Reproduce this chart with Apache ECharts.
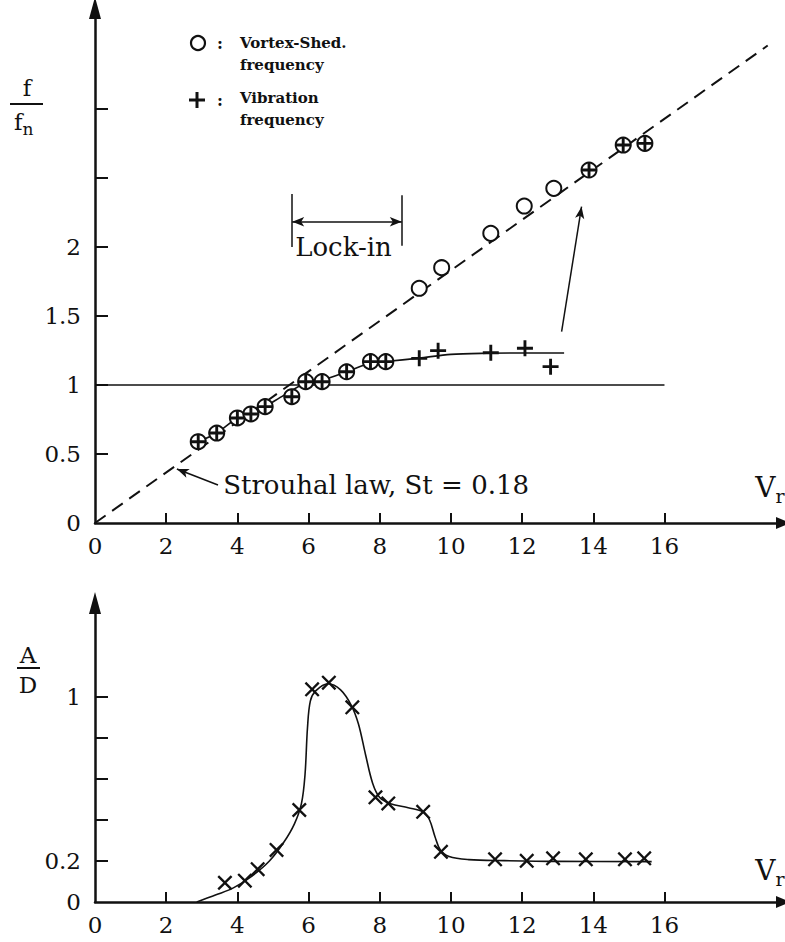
<!DOCTYPE html>
<html><head><meta charset="utf-8">
<script src="https://cdn.jsdelivr.net/npm/echarts@6/dist/echarts.min.js"></script>
<style>html,body{margin:0;padding:0;background:#fff}#c{width:785px;height:942px}</style>
</head><body><div id="c"></div>
<script>
// ---------- axis ticks / labels ----------
const xTickValues = [2, 4, 6, 8, 10, 12, 14, 16];
const xLabelValues = [0, 2, 4, 6, 8, 10, 12, 14, 16];
const freqTickValues = [0.5, 1, 1.5, 2, 2.5, 3];
const freqLabelValues = [0, 0.5, 1, 1.5, 2];
const ampTickValues = [0.2, 0.4, 0.6, 0.8, 1.0];
const ampLabelValues = [0, 0.2, 1];

// ---------- top: frequency ratio ----------
// vortex-shedding frequency (circles)
const vrShed = [2.90, 3.42, 4.00, 4.38, 4.78, 5.53, 5.92, 6.38, 7.07, 7.74, 8.17, 9.11, 9.74, 11.12, 12.06, 12.89, 13.88, 14.84, 15.45];
const fShed  = [0.589, 0.652, 0.761, 0.790, 0.843, 0.915, 1.024, 1.024, 1.096, 1.169, 1.169, 1.701, 1.850, 2.099, 2.297, 2.425, 2.558, 2.739, 2.751];
// vibration frequency (plus signs)
const vrVib = [2.90, 3.42, 4.00, 4.38, 4.78, 5.53, 5.92, 6.38, 7.07, 7.74, 8.17, 9.11, 9.64, 11.12, 12.08, 12.80, 13.88, 14.84, 15.45];
const fVib  = [0.589, 0.652, 0.761, 0.790, 0.843, 0.915, 1.024, 1.024, 1.096, 1.169, 1.169, 1.193, 1.249, 1.234, 1.266, 1.133, 2.558, 2.739, 2.751];
// hand-drawn fit through vibration frequency
const vrFit = [2.90, 3.42, 4.00, 4.38, 4.78, 5.30, 5.92, 6.38, 7.07, 7.74, 8.17, 9.11, 10.0, 11.0, 12.0, 13.18];
const fFit  = [0.589, 0.652, 0.761, 0.790, 0.843, 0.925, 1.015, 1.035, 1.096, 1.160, 1.170, 1.195, 1.222, 1.230, 1.232, 1.232];
// Strouhal law line (St = 0.18) and natural frequency line
const vrStrouhal = [0, 18.9];
const fStrouhal  = [0, 3.46];
const vrNatural = [0, 16.0];
const fNatural  = [1, 1];

// ---------- bottom: amplitude ----------
const vrAmp = [3.65, 4.21, 4.57, 5.10, 5.74, 6.10, 6.57, 7.23, 7.88, 8.24, 9.22, 9.72, 11.24, 12.13, 12.87, 13.79, 14.89, 15.43];
const aAmp  = [0.094, 0.104, 0.160, 0.254, 0.449, 1.038, 1.070, 0.950, 0.511, 0.481, 0.440, 0.245, 0.208, 0.201, 0.213, 0.208, 0.208, 0.213];
const vrAmpFit = [2.86, 3.40, 3.90, 4.40, 4.90, 5.30, 5.60, 5.80, 5.90, 5.97, 6.05, 6.20, 6.55, 6.90, 7.20, 7.40, 7.60, 7.80, 8.00, 8.30, 8.80, 9.22, 9.40, 9.55, 9.70, 9.95, 10.50, 11.50, 13.00, 15.64];
const aAmpFit  = [0, 0.035, 0.07, 0.125, 0.20, 0.29, 0.38, 0.48, 0.62, 0.85, 0.98, 1.03, 1.065, 1.035, 0.96, 0.87, 0.72, 0.58, 0.51, 0.48, 0.46, 0.44, 0.40, 0.32, 0.255, 0.222, 0.207, 0.202, 0.198, 0.197];

// ---------- annotations (data coordinates) ----------
const lockInStart = 5.54, lockInEnd = 8.62, lockInBarLow = 2.0, lockInBarHigh = 2.385, lockInArrowY = 2.183;
const strouhalArrowFrom = [3.455, 0.275], strouhalArrowTo = [2.30, 0.391];
const liftArrowFrom = [13.11, 1.386], liftArrowTo = [13.67, 2.292];

const zip = (a, b) => a.map((v, i) => [v, b[i]]);
const INK = '#111';
const SERIF = "'DejaVu Serif', 'Liberation Serif', serif";
const PLUS = 'path://M4.1,0H5.9V4.1H10V5.9H5.9V10H4.1V5.9H0V4.1H4.1Z';
const CROSS = 'path://M0,1.1L1.1,0L5,3.9L8.9,0L10,1.1L6.1,5L10,8.9L8.9,10L5,6.1L1.1,10L0,8.9L3.9,5Z';

const chart = echarts.init(document.getElementById('c'), null, {renderer: 'svg'});

function xAxisDef(gridIndex) {
  return {
    type: 'value', gridIndex, min: 0, max: 19.33,
    axisLine: {onZero: false, lineStyle: {color: INK, width: 2.5}, symbol: ['none', 'triangle'], symbolSize: [12, 14]},
    axisTick: {inside: true, length: 10, lineStyle: {color: INK, width: 2}, customValues: xTickValues},
    axisLabel: {color: INK, fontFamily: SERIF, fontSize: 23, margin: 11, customValues: xLabelValues},
    splitLine: {show: false}
  };
}
function yAxisDef(gridIndex, max, ticks, labels) {
  return {
    type: 'value', gridIndex, min: 0, max,
    axisLine: {onZero: false, lineStyle: {color: INK, width: 2.5}, symbol: ['none', 'triangle'], symbolSize: [12, 22]},
    axisTick: {inside: true, length: 13, lineStyle: {color: INK, width: 2}, customValues: ticks},
    axisLabel: {color: INK, fontFamily: SERIF, fontSize: 23, margin: 14, customValues: labels},
    splitLine: {show: false}
  };
}

const arrowLine = (from, to, startSym, endSym, width) => [
  {coord: from, symbol: startSym, symbolSize: [7, 12], lineStyle: {color: INK, width: width, type: 'solid'}},
  {coord: to, symbol: endSym, symbolSize: [7, 12]}
];

chart.setOption({
  animation: false,
  backgroundColor: '#fff',
  grid: [
    {left: 95, top: 8, width: 688, height: 515},
    {left: 95, top: 603, width: 688, height: 299}
  ],
  xAxis: [xAxisDef(0), xAxisDef(1)],
  yAxis: [
    yAxisDef(0, 3.732, freqTickValues, freqLabelValues),
    yAxisDef(1, 1.459, ampTickValues, ampLabelValues)
  ],
  series: [
    {
      name: 'Strouhal law', type: 'line', xAxisIndex: 0, yAxisIndex: 0,
      data: zip(vrStrouhal, fStrouhal), symbol: 'none', silent: true,
      lineStyle: {color: INK, width: 2, type: [13, 8]}, z: 2,
      markLine: {
        silent: true, animation: false, label: {show: false}, symbol: ['none', 'none'],
        data: [
          arrowLine([lockInStart, lockInBarLow], [lockInStart, lockInBarHigh], 'none', 'none', 1.5),
          arrowLine([lockInEnd, lockInBarLow + 0.01], [lockInEnd, lockInBarHigh - 0.01], 'none', 'none', 1.5),
          arrowLine([lockInStart, lockInArrowY], [lockInEnd, lockInArrowY], 'arrow', 'arrow', 1.5),
          arrowLine(strouhalArrowFrom, strouhalArrowTo, 'none', 'arrow', 1.5),
          arrowLine(liftArrowFrom, liftArrowTo, 'none', 'arrow', 1.5)
        ]
      }
    },
    {
      name: 'Natural frequency', type: 'line', xAxisIndex: 0, yAxisIndex: 0,
      data: zip(vrNatural, fNatural), symbol: 'none', silent: true,
      lineStyle: {color: INK, width: 1.5}, z: 2
    },
    {
      name: 'Vibration fit', type: 'line', xAxisIndex: 0, yAxisIndex: 0,
      data: zip(vrFit, fFit), symbol: 'none', smooth: 0.3, silent: true,
      lineStyle: {color: INK, width: 1.6}, z: 2
    },
    {
      name: 'Vortex-Shed. frequency', type: 'scatter', xAxisIndex: 0, yAxisIndex: 0,
      data: zip(vrShed, fShed), symbol: 'circle', symbolSize: 15,
      itemStyle: {color: '#fff', borderColor: INK, borderWidth: 2, opacity: 1}, z: 3
    },
    {
      name: 'Vibration frequency', type: 'scatter', xAxisIndex: 0, yAxisIndex: 0,
      data: zip(vrVib, fVib), symbol: PLUS, symbolSize: 16,
      itemStyle: {color: INK, opacity: 1}, z: 4
    },
    {
      name: 'Amplitude fit', type: 'line', xAxisIndex: 1, yAxisIndex: 1,
      data: zip(vrAmpFit, aAmpFit), symbol: 'none', smooth: 0.35, silent: true,
      lineStyle: {color: INK, width: 1.6}, z: 2
    },
    {
      name: 'A/D', type: 'scatter', xAxisIndex: 1, yAxisIndex: 1,
      data: zip(vrAmp, aAmp), symbol: CROSS, symbolSize: 15,
      itemStyle: {color: INK, opacity: 1}, z: 4
    }
  ]
});

// ---------- text annotations (positions from data coordinates) ----------
const px0 = (p) => chart.convertToPixel({gridIndex: 0}, p);
const lockTxt = px0([lockInStart, 2.0]);
const strTxt = px0([3.6, 0.275]);
const vrTop = px0([18.55, 0.26]);
const vrBot = chart.convertToPixel({gridIndex: 1}, [18.55, 0.155]);

const txt = (text, x, y, font, align) => ({
  type: 'text', silent: true,
  style: {text, x, y, fill: INK, font: font,
    align: align, textAlign: align, verticalAlign: 'middle', textVerticalAlign: 'middle'}
});
const vr = (p) => ({type: 'text', silent: true, style: {x: p[0], y: p[1], fill: INK, align: 'left', verticalAlign: 'middle',
  text: '{m|V}{s|r}', rich: {m: {fontFamily: SERIF, fontSize: 28}, s: {fontFamily: SERIF, fontSize: 19, padding: [17, 0, 0, 0]}}}});

chart.setOption({
  graphic: [
    // y-axis title f / f_n
    txt('f', 27, 88, '23px ' + SERIF, 'center'),
    {type: 'line', silent: true, shape: {x1: 10, y1: 104, x2: 43, y2: 104}, style: {stroke: INK, lineWidth: 2}},
    {type: 'text', silent: true, style: {x: 14, y: 122, fill: INK, align: 'left', verticalAlign: 'middle',
      text: '{m|f}{s|n}', rich: {m: {fontFamily: SERIF, fontSize: 23}, s: {fontFamily: SERIF, fontSize: 17, padding: [14, 0, 0, 0]}}}},
    // y-axis title A / D
    txt('A', 28, 655, '23px ' + SERIF, 'center'),
    {type: 'line', silent: true, shape: {x1: 17, y1: 668, x2: 40, y2: 668}, style: {stroke: INK, lineWidth: 2}},
    txt('D', 28, 685, '23px ' + SERIF, 'center'),
    // V_r labels
    vr(vrTop),
    vr(vrBot),
    // legend
    {type: 'circle', silent: true, shape: {cx: 198, cy: 43, r: 7}, style: {fill: '#fff', stroke: INK, lineWidth: 2.2}},
    txt(':', 220, 43, 'bold 16px ' + SERIF, 'center'),
    txt('Vortex-Shed.', 240, 43, 'bold 15px ' + SERIF, 'left'),
    txt('frequency', 240, 65, 'bold 15px ' + SERIF, 'left'),
    {type: 'rect', silent: true, shape: {x: 189, y: 98.5, width: 16, height: 3}, style: {fill: INK}},
    {type: 'rect', silent: true, shape: {x: 195.5, y: 92, width: 3, height: 16}, style: {fill: INK}},
    txt(':', 220, 100, 'bold 16px ' + SERIF, 'center'),
    txt('Vibration', 240, 98, 'bold 15px ' + SERIF, 'left'),
    txt('frequency', 240, 120, 'bold 15px ' + SERIF, 'left'),
    // annotations
    txt('Lock-in', lockTxt[0] + 3, lockTxt[1], '26px ' + SERIF, 'left'),
    txt('Strouhal law, St = 0.18', strTxt[0], strTxt[1], '26px ' + SERIF, 'left')
  ]
});
</script>
</body></html>
